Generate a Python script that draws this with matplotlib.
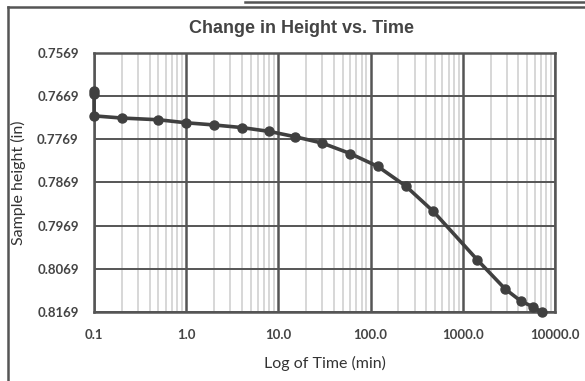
import numpy as np
import matplotlib
matplotlib.use("Agg")
import matplotlib.pyplot as plt
from matplotlib.ticker import FixedLocator, NullFormatter

# consolidation readings: elapsed time (min) and sample height (in)
time_min = [0.1, 0.1, 0.1, 0.2, 0.5, 1, 2, 4, 8, 15, 30, 60, 120, 240, 480,
            1440, 2880, 4320, 5760, 7200]
height_in = [0.7657, 0.7664, 0.7715, 0.7720, 0.7724, 0.7731, 0.7736, 0.7742,
             0.7751, 0.7763, 0.7778, 0.7802, 0.7832, 0.7877, 0.7936,
             0.8048, 0.8115, 0.8144, 0.8156, 0.8169]

y_ticks = [0.7569, 0.7669, 0.7769, 0.7869, 0.7969, 0.8069, 0.8169]
x_ticks = [0.1, 1, 10, 100, 1000, 10000]
x_tick_labels = ["0.1", "1.0", "10.0", "100.0", "1000.0", "10000.0"]

dark = "#404040"
label_font = ["Lato", "DejaVu Sans"]

fig = plt.figure(figsize=(5.85, 3.81), dpi=100)
ax = fig.add_axes([0.1607, 0.1803, 0.7880, 0.6814])

ax.set_xscale("log")
ax.set_xlim(0.1, 10000)
ax.set_ylim(0.8169, 0.7569)

# grid: light minor lines per decade, dark major lines
minor = [m * 10.0 ** e for e in range(-1, 4) for m in range(2, 10)]
ax.xaxis.set_minor_locator(FixedLocator(minor))
ax.xaxis.set_minor_formatter(NullFormatter())
ax.set_xticks(x_ticks)
ax.set_xticklabels(x_tick_labels)
ax.set_yticks(y_ticks)
ax.set_yticklabels([f"{v:.4f}" for v in y_ticks])

ax.grid(which="minor", axis="x", color="#d4d4d4", linewidth=1.3)
ax.grid(which="major", axis="x", color="#555555", linewidth=1.8)
ax.grid(which="major", axis="y", color="#555555", linewidth=1.4)
ax.set_axisbelow(True)

for s in ax.spines.values():
    s.set_color("#555555")
    s.set_linewidth(1.8)

ax.tick_params(which="both", length=0)
ax.tick_params(axis="x", pad=12, labelsize=9.5, labelcolor="#444444")
ax.tick_params(axis="y", pad=11, labelsize=9.5, labelcolor="#444444")
for t in ax.get_xticklabels() + ax.get_yticklabels():
    t.set_fontweight("bold")
    t.set_family(label_font)

ax.plot(time_min, height_in, color=dark, linewidth=2.6, marker="o",
        markersize=6.5, markerfacecolor=dark, markeredgecolor=dark,
        clip_on=False, zorder=5)

fig.text(0.515, 0.925, "Change in Height vs. Time", ha="center", va="center",
         fontsize=13, fontweight="bold", color="#444444",
         family=["Liberation Sans", "DejaVu Sans"])
ax.set_xlabel("Log of Time (min)", fontsize=11.5, color="#333333",
              family=label_font, labelpad=11)
ax.set_ylabel("Sample height (in)", fontsize=11.5, color="#333333",
              family=label_font, labelpad=8)

# outer chart frame
frame_kw = dict(color="#555555", linewidth=1.8, transform=fig.transFigure)
fig.add_artist(plt.Line2D([8 / 585, 8 / 585], [0, 1 - 7 / 381], **frame_kw))
fig.add_artist(plt.Line2D([8 / 585, 1], [1 - 7 / 381, 1 - 7 / 381], **frame_kw))
fig.add_artist(plt.Line2D([245 / 585, 1], [1 - 1.5 / 381, 1 - 1.5 / 381], **frame_kw))

fig.savefig("out.png", dpi=100)
